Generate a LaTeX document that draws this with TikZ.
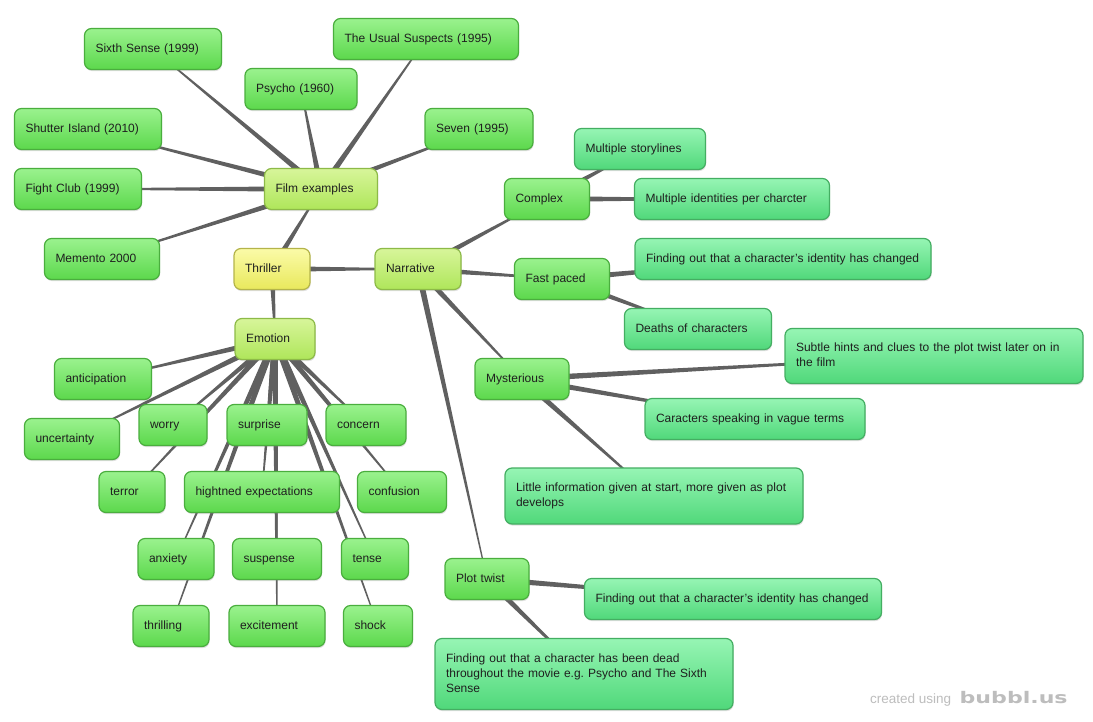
\documentclass[tikz,border=0pt]{standalone}
\usepackage{fontspec}
\setmainfont{Liberation Sans}
\newfontfamily\logofont{DejaVu Sans}
\usetikzlibrary{calc,positioning,shadows}

\pgfdeclarelayer{paper}
\pgfdeclarelayer{links}
\pgfsetlayers{paper,links,main}

\definecolor{rootTop}{HTML}{FBFBA8}
\definecolor{rootBot}{HTML}{E8E85C}
\definecolor{rootLine}{HTML}{B4B44A}
\definecolor{topicTop}{HTML}{D8F59A}
\definecolor{topicBot}{HTML}{AEE65A}
\definecolor{topicLine}{HTML}{8DBA48}
\definecolor{leafTop}{HTML}{9AF28E}
\definecolor{leafBot}{HTML}{5CD84C}
\definecolor{leafLine}{HTML}{4AAE3E}
\definecolor{noteTop}{HTML}{96F5B4}
\definecolor{noteBot}{HTML}{50D87A}
\definecolor{noteLine}{HTML}{44AE62}
\definecolor{linkgray}{HTML}{606060}
\definecolor{footgray}{HTML}{BDBDBD}

\tikzset{
    bubble/.style={rounded corners=7pt, line width=1.2pt, align=left,
        inner xsep=11pt, inner ysep=4pt, minimum height=41pt,
        text=black!88, font=\fontsize{12}{15}\selectfont\frenchspacing,
        execute at begin node=\strut, execute at end node=\strut,
        drop shadow={opacity=0.25, shadow xshift=0.6pt, shadow yshift=-1.6pt}},
    rootbox/.style={bubble, draw=rootLine, top color=rootTop, bottom color=rootBot},
    topicbox/.style={bubble, draw=topicLine, top color=topicTop, bottom color=topicBot},
    leafbox/.style={bubble, draw=leafLine, top color=leafTop, bottom color=leafBot},
    notebox/.style={bubble, draw=noteLine, top color=noteTop, bottom color=noteBot},
    link/.style={fill=linkgray},
}

% tapered branch: wide at the parent, thin at the child
\newcommand{\taper}[2]{%
    \fill[link] ($(#1)!3pt!90:(#2)$) -- ($(#2)!0.5pt!-90:(#1)$)
        -- ($(#2)!0.5pt!90:(#1)$) -- ($(#1)!3pt!-90:(#2)$) -- cycle;}

\begin{document}
\begin{tikzpicture}[x=1pt, y=-1pt]

    \begin{pgfonlayer}{paper}
        \fill[white] (0,0) rectangle (1093,721);
    \end{pgfonlayer}
    \useasboundingbox (0,0) rectangle (1093,721);

    % --- centre ---
    \node[rootbox, text width=54pt] (thriller) at (272,269) {Thriller};
    \node[topicbox, text width=91pt] (film) at (321,189) {Film examples};
    \node[topicbox, text width=64pt] (narr) at (418,269) {Narrative};
    \node[topicbox, text width=58pt] (emo) at (275,339) {Emotion};

    % --- film examples ---
    \node[leafbox, text width=115pt] (sixth) at (153,49) {Sixth Sense (1999)};
    \node[leafbox, text width=90pt] (psycho) at (301,89) {Psycho (1960)};
    \node[leafbox, text width=163pt] (usual) at (426,39) {The Usual Suspects (1995)};
    \node[leafbox, text width=125pt] (shutter) at (88,129) {Shutter Island (2010)};
    \node[leafbox, text width=86pt] (seven) at (479,129) {Seven (1995)};
    \node[leafbox, text width=105pt] (fight) at (78,189) {Fight Club (1999)};
    \node[leafbox, text width=93pt] (memento) at (102,259) {Memento 2000};

    % --- narrative ---
    \node[leafbox, text width=63pt] (complex) at (547,199) {Complex};
    \node[leafbox, text width=73pt] (fast) at (562,279) {Fast paced};
    \node[leafbox, text width=72pt] (myst) at (522,379) {Mysterious};
    \node[leafbox, text width=62pt] (plot) at (487,579) {Plot twist};

    \node[notebox, text width=109pt] (storylines) at (640,149) {Multiple storylines};
    \node[notebox, text width=173pt] (identities) at (732,199) {Multiple identities per charcter};
    \node[notebox, text width=274pt] (changed) at (783,259) {Finding out that a character's identity has changed};
    \node[notebox, text width=125pt] (deaths) at (698,329) {Deaths of characters};
    \node[notebox, text width=276pt, minimum height=55pt] (hints) at (934,356)
        {Subtle hints and clues to the plot twist later on in\\the film};
    \node[notebox, text width=198pt] (vague) at (755,419) {Caracters speaking in vague terms};
    \node[notebox, text width=276pt, minimum height=56pt] (little) at (654,496)
        {Little information given at start, more given as plot\\develops};
    \node[notebox, text width=275pt] (changedb) at (733,599) {Finding out that a character's identity has changed};
    \node[notebox, text width=276pt, minimum height=71pt] (dead) at (584,674)
        {Finding out that a character has been dead\\throughout the movie e.g. Psycho and The Sixth\\Sense};

    % --- emotion ---
    \node[leafbox, text width=75pt] (anticip) at (103,379) {anticipation};
    \node[leafbox, text width=73pt] (uncert) at (72,439) {uncertainty};
    \node[leafbox, text width=46pt] (worry) at (173,425) {worry};
    \node[leafbox, text width=58pt] (surprise) at (267,425) {surprise};
    \node[leafbox, text width=58pt] (concern) at (366,425) {concern};
    \node[leafbox, text width=44pt] (terror) at (132,492) {terror};
    \node[leafbox, text width=133pt] (hightned) at (262,492) {hightned expectations};
    \node[leafbox, text width=67pt] (confusion) at (402,492) {confusion};
    \node[leafbox, text width=54pt] (anxiety) at (176,559) {anxiety};
    \node[leafbox, text width=67pt] (suspense) at (277,559) {suspense};
    \node[leafbox, text width=45pt] (tense) at (375,559) {tense};
    \node[leafbox, text width=54pt] (thrilling) at (171,626) {thrilling};
    \node[leafbox, text width=74pt] (excite) at (277,626) {excitement};
    \node[leafbox, text width=47pt] (shock) at (378,626) {shock};

    % --- footer ---
    \node[anchor=base west, inner sep=0pt, text=footgray, font=\fontsize{13.5}{16}\selectfont]
        (made) at (870,703) {created using};
    \node[anchor=base west, inner sep=0pt, text=footgray, font=\logofont\bfseries\fontsize{16}{18}\selectfont]
        (logo) at ([xshift=8pt]made.base east) {\scalebox{1.38}[1]{bubbl.us}};

    % --- branches ---
    \begin{pgfonlayer}{links}
        \taper{thriller}{film}
        \taper{thriller}{narr}
        \taper{thriller}{emo}

        \taper{film}{sixth}
        \taper{film}{psycho}
        \taper{film}{usual}
        \taper{film}{shutter}
        \taper{film}{seven}
        \taper{film}{fight}
        \taper{film}{memento}

        \taper{narr}{complex}
        \taper{narr}{fast}
        \taper{narr}{myst}
        \taper{narr}{plot}
        \taper{complex}{storylines}
        \taper{complex}{identities}
        \taper{fast}{changed}
        \taper{fast}{deaths}
        \taper{myst}{hints}
        \taper{myst}{vague}
        \taper{myst}{little}
        \taper{plot}{changedb}
        \taper{plot}{dead}

        \taper{emo}{anticip}
        \taper{emo}{uncert}
        \taper{emo}{worry}
        \taper{emo}{surprise}
        \taper{emo}{concern}
        \taper{emo}{terror}
        \taper{emo}{hightned}
        \taper{emo}{confusion}
        \taper{emo}{anxiety}
        \taper{emo}{suspense}
        \taper{emo}{tense}
        \taper{emo}{thrilling}
        \taper{emo}{excite}
        \taper{emo}{shock}
    \end{pgfonlayer}

\end{tikzpicture}
\end{document}
